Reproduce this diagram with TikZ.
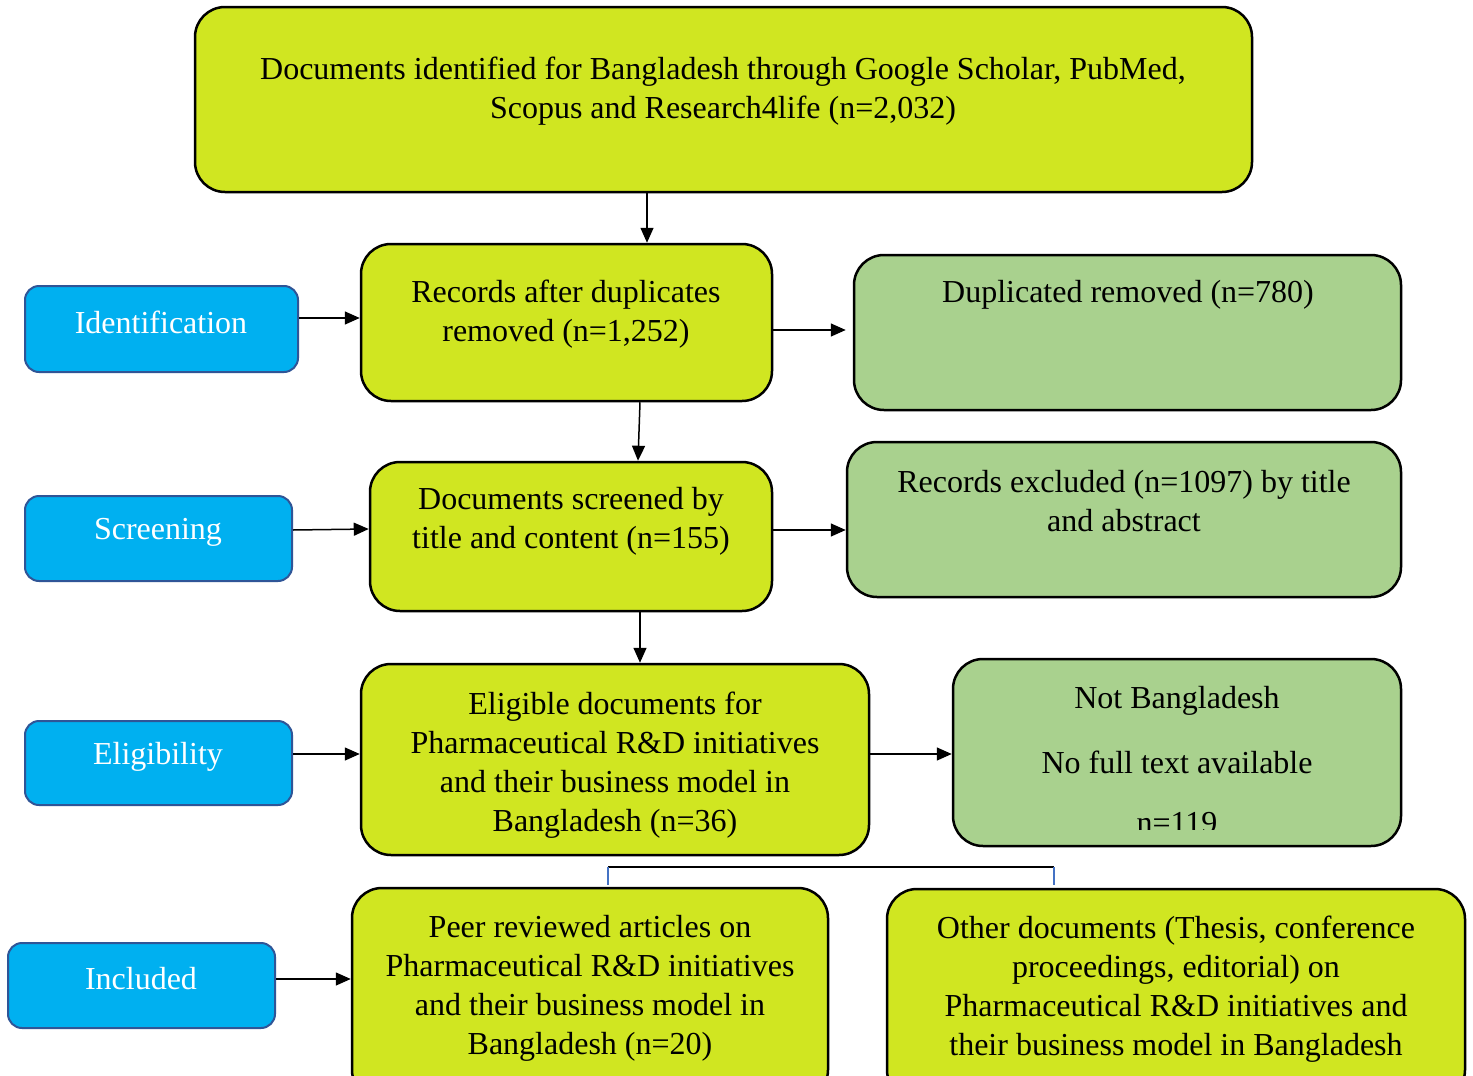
\documentclass[tikz,border=0pt]{standalone}
\usepackage{fontspec}
\setmainfont{Liberation Serif}
\usetikzlibrary{arrows.meta}
\definecolor{lime}{HTML}{D0E621}
\definecolor{sage}{HTML}{A9D18E}
\definecolor{sky}{HTML}{00B0F0}
\definecolor{skyedge}{HTML}{2F5597}
\definecolor{brk}{HTML}{4472C4}
\begin{document}
\begin{tikzpicture}[x=1pt,y=-1pt,
  every node/.style={font=\fontsize{32}{39}\selectfont},
  mainbox/.style={draw=black, line width=2.5pt, rounded corners=30pt, fill=lime, inner sep=0pt},
  sidebox/.style={draw=black, line width=2.5pt, rounded corners=30pt, fill=sage, inner sep=0pt},
  stagebox/.style={draw=skyedge, line width=2pt, rounded corners=14pt, fill=sky, inner sep=0pt},
  txt/.style={align=center, inner sep=0pt, text=black},
  stagetxt/.style={inner sep=0pt, text=white},
  arr/.style={line width=1.5pt, -{Triangle[length=15pt,width=13pt]}}]
\useasboundingbox (0,0) rectangle (1473,1076);
\fill[white] (0,0) rectangle (1473,1076);
% boxes
\node[mainbox, minimum width=1057pt, minimum height=185pt] (top) at (723.5,99.5) {};
\node[mainbox, minimum width=411pt, minimum height=157pt] (rec) at (566.5,322.5) {};
\node[sidebox, minimum width=547pt, minimum height=155pt] (dup) at (1127.5,332.5) {};
\node[mainbox, minimum width=402pt, minimum height=149pt] (scr) at (571,536.5) {};
\node[sidebox, minimum width=554pt, minimum height=155pt] (exc) at (1124,519.5) {};
\node[mainbox, minimum width=508pt, minimum height=191pt] (eli) at (615,759.5) {};
\node[sidebox, minimum width=448pt, minimum height=187pt] (nbd) at (1177,752.5) {};
\node[mainbox, minimum width=476pt, minimum height=212pt] (peer) at (590,994) {};
\node[mainbox, minimum width=578pt, minimum height=211pt] (oth) at (1176,994.5) {};
\node[stagebox, minimum width=273pt, minimum height=86pt] (idb) at (161.5,329) {};
\node[stagebox, minimum width=267pt, minimum height=85pt] (scb) at (158.5,538.5) {};
\node[stagebox, minimum width=267pt, minimum height=84pt] (elb) at (158.5,763) {};
\node[stagebox, minimum width=267pt, minimum height=85pt] (inb) at (141.5,985.5) {};
% texts
\node[txt] (toptxt) at (723,91) {Documents identified for Bangladesh through Google Scholar, PubMed,\\Scopus and Research4life (n=2,032)};
\node[txt] (rectxt) at (566,314.5) {Records after duplicates\\removed (n=1,252)};
\node[txt] (duptxt) at (1128,295) {Duplicated removed (n=780)};
\node[txt] (scrtxt) at (571,521.5) {Documents screened by\\title and content (n=155)};
\node[txt] (exctxt) at (1124,501) {Records excluded (n=1097) by title\\and abstract};
\node[txt] (elitxt) at (615,765) {Eligible documents for\\Pharmaceutical R\&D initiatives\\and their business model in\\Bangladesh (n=36)};
\node[txt] (nbdtxt1) at (1177,701) {Not Bangladesh};
\node[txt] (nbdtxt2) at (1177,762) {No full text available};
\begin{scope}
\clip (960,790) rectangle (1395,829);
\node[txt] (nbdtxt3) at (1177,823) {n=119};
\end{scope}
\node[txt] (peertxt) at (590,988.5) {Peer reviewed articles on\\Pharmaceutical R\&D initiatives\\and their business model in\\Bangladesh (n=20)};
\node[txt] (othtxt) at (1176,989.5) {Other documents (Thesis, conference\\proceedings, editorial) on\\Pharmaceutical R\&D initiatives and\\their business model in Bangladesh};
\node[stagetxt] (idtxt) at (161,322) {Identification};
\node[stagetxt] (sctxt) at (158,532) {Screening};
\node[stagetxt] (eltxt) at (158,757) {Eligibility};
\node[stagetxt] (intxt) at (141,979) {Included};
% arrows
\draw[arr] (top.south -| 647,0) -- (rec.north -| 647,0);
\draw[arr] (rec.south -| 640,0) -- (scr.north -| 638,0);
\draw[arr] (scr.south -| 640,0) -- (eli.north -| 640,0);
\draw[arr] (idb.east |- 0,318) -- (rec.west |- 0,318);
\draw[arr] (rec.east |- 0,330) -- ([xshift=-7pt]dup.west |- 0,330);
\draw[arr] (scb.east |- 0,530) -- (scr.west |- 0,529);
\draw[arr] (scr.east |- 0,530) -- (exc.west |- 0,530);
\draw[arr] (elb.east |- 0,754) -- (eli.west |- 0,754);
\draw[arr] (eli.east |- 0,754) -- (nbd.west |- 0,754);
\draw[arr] (inb.east |- 0,979) -- (peer.west |- 0,979);
% bracket
\coordinate (bl) at (608,867);
\coordinate (br) at (1054,867);
\coordinate (bld) at (608,885);
\coordinate (brd) at (1054,885);
\draw[line width=2pt, black] (bl) -- (br);
\draw[line width=2pt, brk] (bl) -- (bld);
\draw[line width=2pt, brk] (br) -- (brd);
\end{tikzpicture}
\end{document}
